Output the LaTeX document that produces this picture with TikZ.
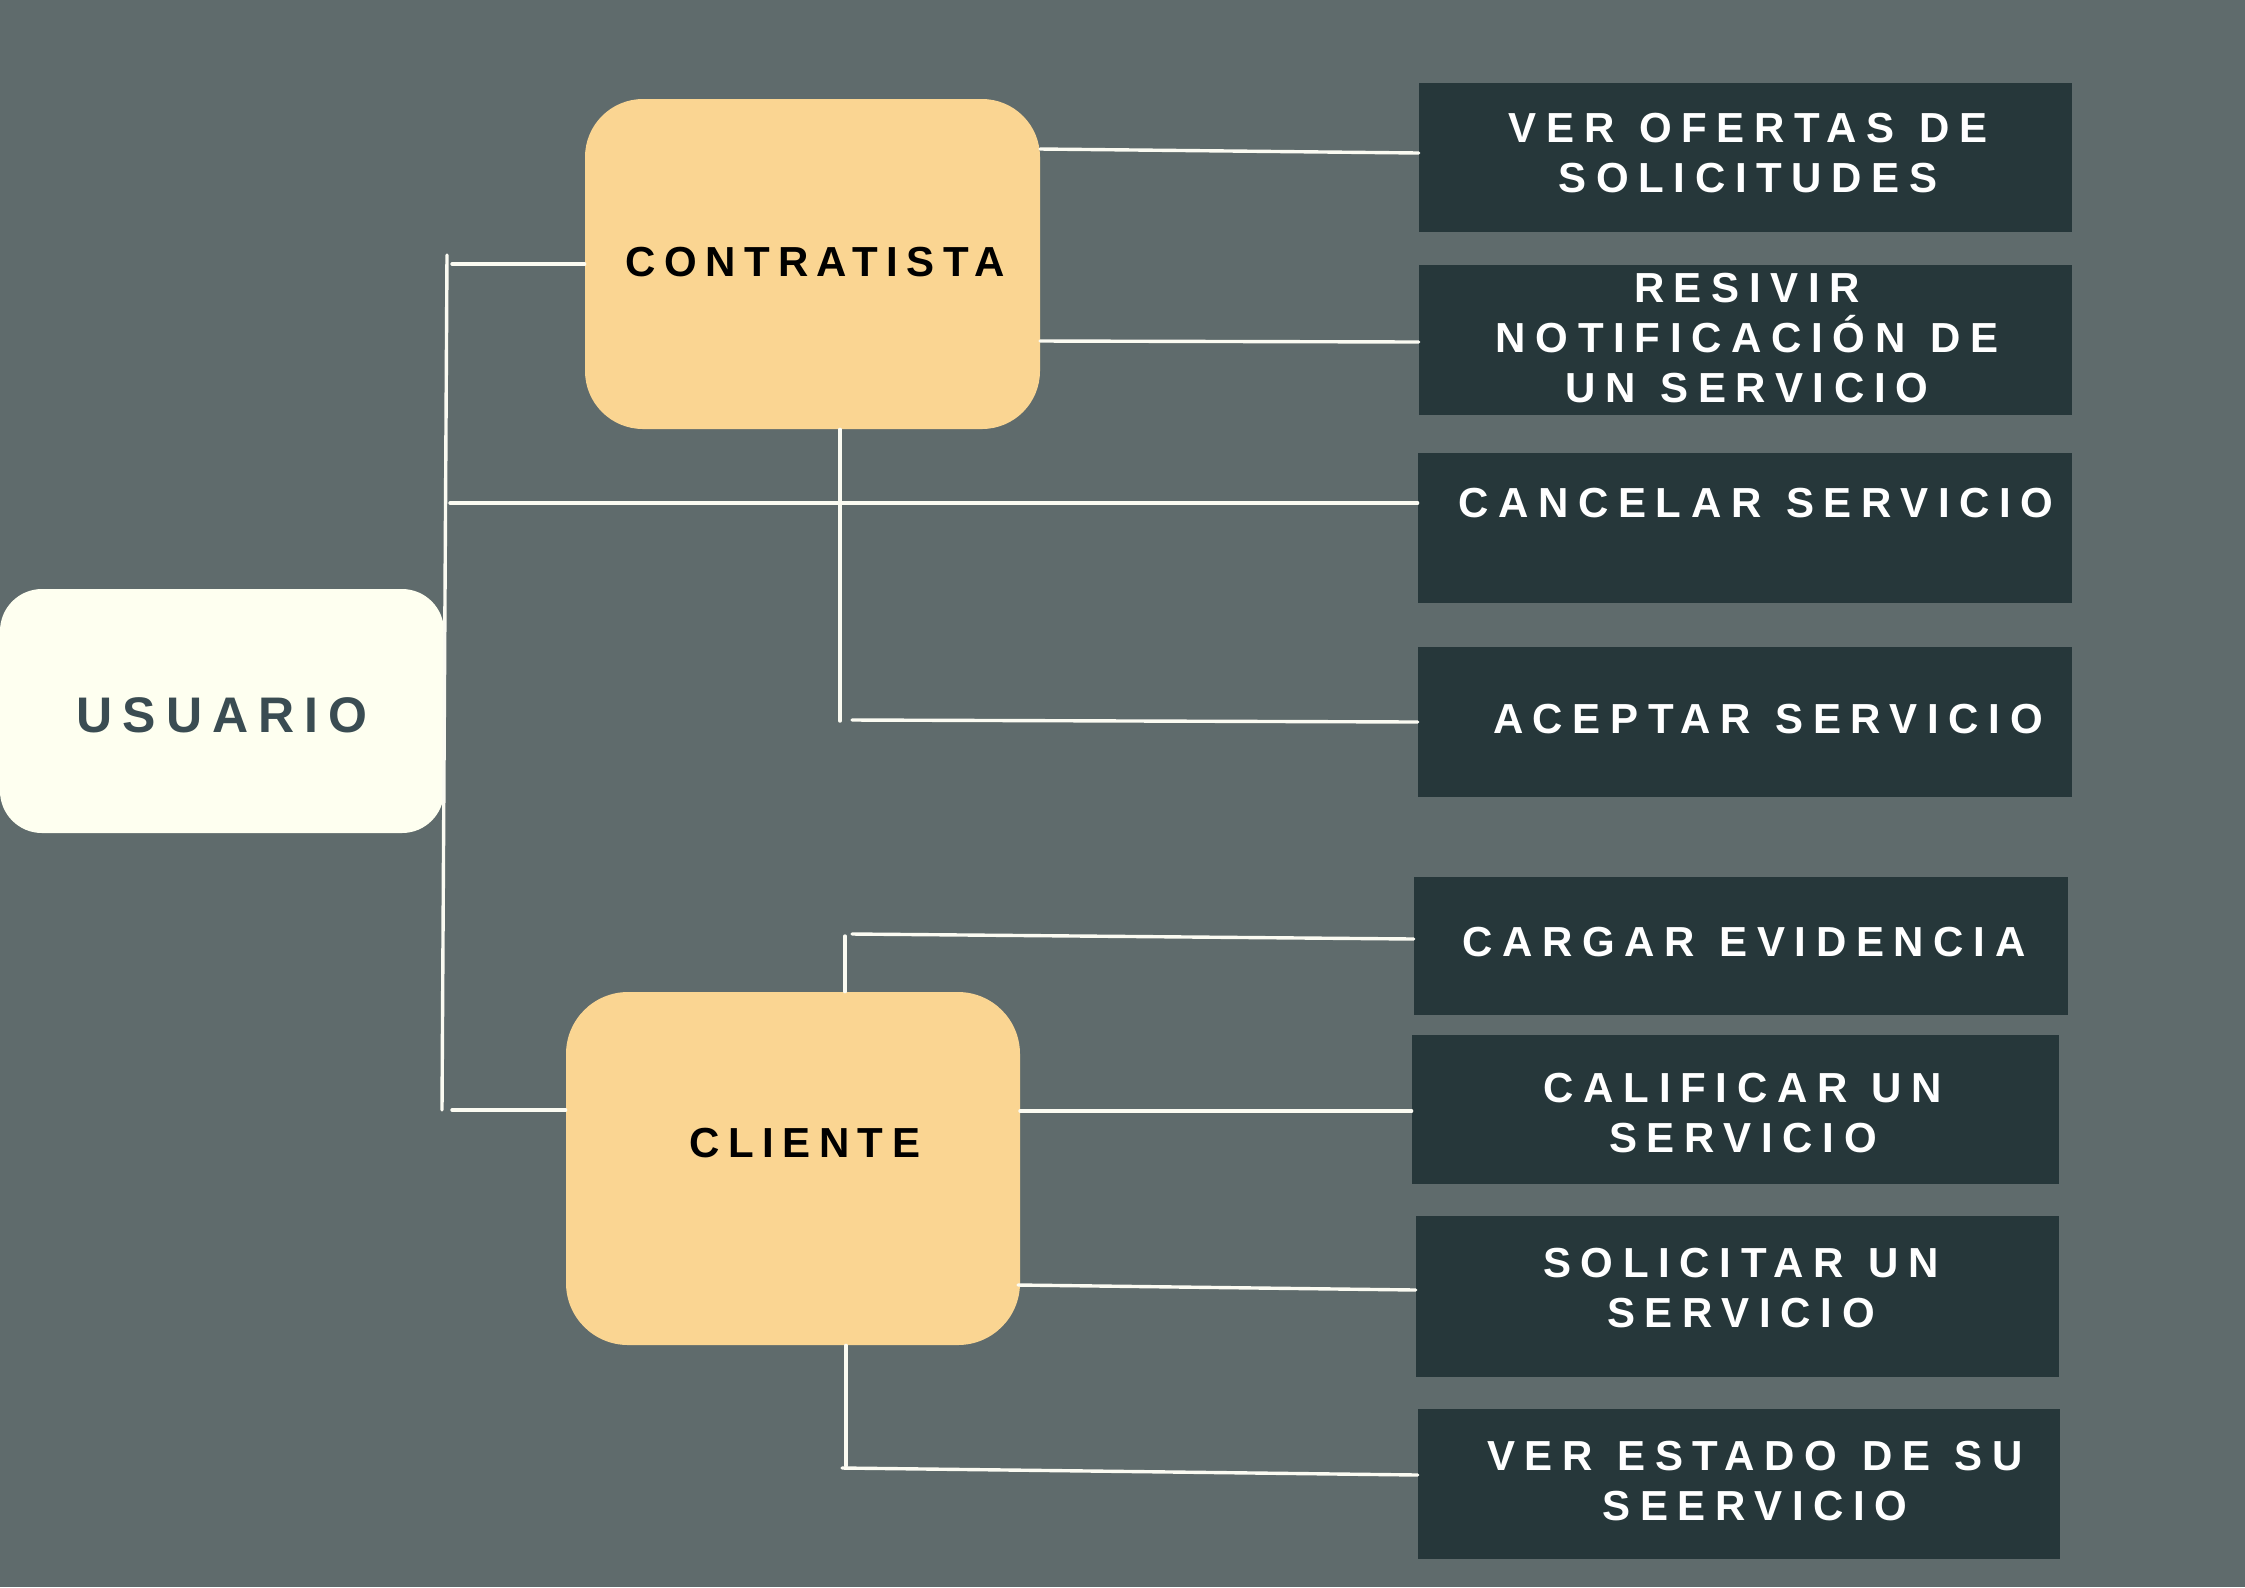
\documentclass[tikz,border=0pt]{standalone}
\usepackage{fontspec}
\setmainfont{Liberation Sans}
\newfontfamily\boxfont[LetterSpace=20]{Liberation Sans}
\newfontfamily\whitefont[LetterSpace=23,WordSpace=1.15]{Liberation Sans}
\usetikzlibrary{fit}
\definecolor{bgc}{HTML}{5F6B6C}
\definecolor{darkc}{HTML}{26373A}
\definecolor{yelc}{HTML}{FAD592}
\definecolor{creamc}{HTML}{FEFFF0}
\definecolor{usuc}{HTML}{3A4C52}
\definecolor{linec}{HTML}{FBFBF2}
\tikzset{
  ybox/.style={fill=yelc, draw=none, inner sep=0pt},
  ubox/.style={fill=creamc, draw=none, inner sep=0pt, rounded corners=21pt},
  dbox/.style={fill=darkc, draw=none, inner sep=0pt},
  ctext/.style={inner sep=0pt, text=black, font=\boxfont\bfseries\fontsize{21}{25}\selectfont},
  utext/.style={inner sep=0pt, text=usuc, font=\boxfont\bfseries\fontsize{25}{30}\selectfont},
  wtext/.style={inner sep=0pt, text=white, align=center, font=\whitefont\bfseries\fontsize{21}{25}\selectfont},
  conn/.style={draw=linec, line width=1.7pt, line cap=round}
}
\begin{document}
\begin{tikzpicture}[x=0.5pt,y=-0.5pt]
\fill[bgc] (0,0) rectangle (2245,1587);
\useasboundingbox (0,0) rectangle (2245,1587);

% left and middle boxes
\node[ubox, fit={(0,589)(444,833)}] (usu) {};
\node[ybox, rounded corners=29pt, fit={(585,99)(1040,429)}] (contr) {};
\node[ybox, rounded corners=31pt, fit={(566,992)(1020,1345)}] (cli) {};
\node[utext] (usuT) at (222,715) {USUARIO};
\node[ctext] (contrT) at (815,262) {CONTRATISTA};
\node[ctext] (cliT) at (805,1143) {CLIENTE};

% right boxes
\node[dbox, fit={(1419,83)(2072,232)}] (ver) {};
\node[dbox, fit={(1419,265)(2072,415)}] (resiv) {};
\node[dbox, fit={(1418,453)(2072,603)}] (cancel) {};
\node[dbox, fit={(1418,647)(2072,797)}] (acept) {};
\node[dbox, fit={(1414,877)(2068,1015)}] (carg) {};
\node[dbox, fit={(1412,1035)(2059,1184)}] (calif) {};
\node[dbox, fit={(1416,1216)(2059,1377)}] (solic) {};
\node[dbox, fit={(1418,1409)(2060,1559)}] (verest) {};

\node[wtext] (verT) at (1748,153) {VER OFERTAS DE\\SOLICITUDES};
\node[wtext] (resivT) at (1747,338) {RESIVIR\\NOTIFICACIÓN DE\\UN SERVICIO};
\node[wtext] (cancelT) at (1756,503) {CANCELAR SERVICIO};
\node[wtext] (aceptT) at (1768,719) {ACEPTAR SERVICIO};
\node[wtext] (cargT) at (1744,942) {CARGAR EVIDENCIA};
\node[wtext] (califT) at (1743,1113) {CALIFICAR UN\\SERVICIO};
\node[wtext] (solicT) at (1741,1288) {SOLICITAR UN\\SERVICIO};
\node[wtext] (verestT) at (1755,1481) {VER ESTADO DE SU\\SEERVICIO};

% connector points
\coordinate (t1) at (447,255);
\coordinate (t2) at (442,1110);
\coordinate (b1) at (452,264);
\coordinate (b2) at (450,503);
\coordinate (b3) at (452,1110);
\coordinate (c2) at (840,721);
\coordinate (c3) at (852,720);
\coordinate (r1) at (1040,149);
\coordinate (r2) at (1040,341);
\coordinate (d1) at (845,936);
\coordinate (d2) at (852,934);
\coordinate (e1) at (1020,1111);
\coordinate (e2) at (1018,1285);
\coordinate (f1) at (846,1466);
\coordinate (f2) at (842,1468);

% connectors
\draw[conn] (t1) -- (t2);
\draw[conn] (b1) -- (contr.west);
\draw[conn] (b2) -- (b2 -| cancel.west);
\draw[conn] (c2 |- contr.south) -- (c2);
\draw[conn] (c3) -- (acept.west);
\draw[conn] (r1) -- ([yshift=2.25pt]ver.west);
\draw[conn] (r2) -- ([yshift=-1pt]resiv.west);
\draw[conn] (b3) -- (b3 -| cli.west);
\draw[conn] (d1) -- (d1 |- cli.north);
\draw[conn] (d2) -- ([yshift=3.5pt]carg.west);
\draw[conn] (e1) -- (e1 -| calif.west);
\draw[conn] (e2) -- ([yshift=3.25pt]solic.west);
\draw[conn] (f1 |- cli.south) -- (f1);
\draw[conn] (f2) -- ([yshift=4.5pt]verest.west);
\end{tikzpicture}
\end{document}
